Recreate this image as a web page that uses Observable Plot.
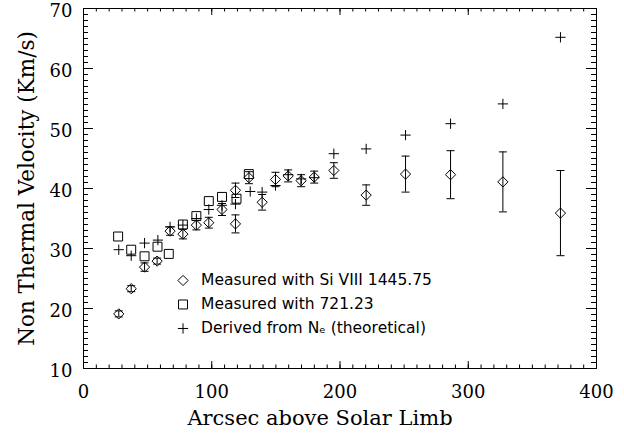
<!DOCTYPE html>
<html><head><meta charset="utf-8">
<script src="https://cdn.jsdelivr.net/npm/d3@7"></script>
<script src="https://cdn.jsdelivr.net/npm/@observablehq/plot@0.6"></script>
<style>
html,body{margin:0;padding:0;background:#fff;}
#chart{width:624px;height:434px;}
</style></head><body><div id="chart"></div>
<script>
// ---- data ----
// Measured with Si VIII 1445.75 (diamonds, with error bars)
const siX   = [27.5, 37.2, 47.6, 57.4, 67.5, 77.5, 88, 97.7, 108, 118.5, 118.5, 129, 139.3, 149.7, 159.6, 169.7, 179.9, 195.2, 220.4, 251.1, 286.2, 327, 371.9];
const siY   = [19.1, 23.3, 26.9, 27.9, 32.9, 32.4, 33.9, 34.3, 36.5, 39.7, 34.1, 41.8, 37.7, 41.5, 42.1, 41.3, 41.9, 43.0, 38.9, 42.4, 42.3, 41.1, 35.9];
const siErr = [0.5, 0.5, 0.7, 0.5, 0.7, 0.8, 0.8, 0.9, 1.0, 1.2, 1.5, 1.0, 1.3, 1.2, 1.0, 1.0, 1.0, 1.3, 1.7, 3.0, 4.0, 5.0, 7.1];
// Measured with 721.23 (squares)
const lnX = [27, 37.2, 47.6, 57.7, 66.5, 77.5, 88, 97.7, 108, 119.3, 128.9];
const lnY = [32.0, 29.8, 28.7, 30.3, 29.1, 34.0, 35.4, 37.9, 38.6, 38.3, 42.4];
// Derived from Ne (theoretical) (plus)
const neX = [27.5, 37.2, 47.6, 58, 67.5, 77.5, 88, 97.7, 108, 118.5, 130, 139.3, 149.7, 159.6, 169.7, 179.9, 195.2, 220.4, 251.1, 286.2, 327, 371.9];
const neY = [29.8, 28.8, 30.9, 31.4, 33.6, 33.9, 35.0, 36.5, 37.2, 37.4, 39.5, 39.4, 40.5, 42.3, 41.6, 41.8, 45.8, 46.6, 48.9, 50.8, 54.1, 65.2];

// axes
const xDomain = [0, 400];
const yDomain = [10, 70];
const xMajor = [0, 100, 200, 300, 400];
const yMajor = [10, 20, 30, 40, 50, 60, 70];
const xMinorStep = 10;
const yMinorStep = 1;
const xTitle = "Arcsec above Solar Limb";
const yTitle = "Non Thermal Velocity (Km/s)";

// legend
const legendLabels = ["Measured with Si VIII 1445.75", "Measured with 721.23", "Derived from N\u2091 (theoretical)"];
const legendSymbols = ["diamond2", "square2", "plus"];

// ---- layout ----
const W = 624, H = 434, mL = 83, mR = 28, mT = 8, mB = 66;
const plotW = W - mL - mR, plotH = H - mT - mB;
const symR = {diamond2: 4.6, square2: 5.7, plus: 3.4};
const legendPos = {x: 77.6, y0: 24.67, step: 4.0, textDx: 18};
const legendWidths = [322, 206, 314];

const xMinor = d3.range(xDomain[0], xDomain[1] + 0.001, xMinorStep);
const yMinor = d3.range(yDomain[0], yDomain[1] + 0.001, yMinorStep);

const siData = siX.map((x, i) => ({x, y: siY[i], e: siErr[i]}));
const lnData = lnX.map((x, i) => ({x, y: lnY[i]}));
const neData = neX.map((x, i) => ({x, y: neY[i]}));
const legendRows = legendLabels.map((label, i) => ({label, symbol: legendSymbols[i], x: legendPos.x, y: legendPos.y0 - i * legendPos.step}));

const cap = {draw(ctx, size) { const r = Math.sqrt(size / Math.PI); ctx.moveTo(-r, 0); ctx.lineTo(r, 0); }};
const ink = {stroke: "black", strokeWidth: 1};

const chart = Plot.plot({
  width: W, height: H,
  marginLeft: mL, marginRight: mR, marginTop: mT, marginBottom: mB,
  x: {domain: xDomain, axis: null},
  y: {domain: yDomain, axis: null},
  style: {fontFamily: "DejaVu Serif", fontSize: "18px", color: "black", background: "white", overflow: "visible"},
  marks: [
    Plot.frame(ink),
    // inward ticks on all four sides
    Plot.tickX(xMinor, {x: d => d, insetTop: plotH - 3.5, ...ink}),
    Plot.tickX(xMinor, {x: d => d, insetBottom: plotH - 3.5, ...ink}),
    Plot.tickX(xMajor, {x: d => d, insetTop: plotH - 7, ...ink}),
    Plot.tickX(xMajor, {x: d => d, insetBottom: plotH - 7, ...ink}),
    Plot.tickY(yMinor, {y: d => d, insetRight: plotW - 5, ...ink}),
    Plot.tickY(yMinor, {y: d => d, insetLeft: plotW - 5, ...ink}),
    Plot.tickY(yMajor, {y: d => d, insetRight: plotW - 10, ...ink}),
    Plot.tickY(yMajor, {y: d => d, insetLeft: plotW - 10, ...ink}),
    // tick labels
    Plot.text(xMajor, {x: d => d, text: d => String(d), frameAnchor: "bottom", lineAnchor: "middle", dy: 24, fill: "black"}),
    Plot.text(yMajor, {y: d => d, text: d => String(d), frameAnchor: "left", lineAnchor: "middle", dx: -11, dy: 3, textAnchor: "end", fill: "black"}),
    // axis titles
    Plot.text([xTitle], {text: d => d, frameAnchor: "bottom", lineAnchor: "middle", textAnchor: "middle", dy: 50, dx: -20, fontSize: 21, fill: "black"}),
    Plot.text([yTitle], {text: d => d, frameAnchor: "left", lineAnchor: "middle", textAnchor: "middle", dx: -56, rotate: -90, fontSize: 21.5, fill: "black"}),
    // error bars
    Plot.ruleX(siData, {x: "x", y1: d => d.y - d.e, y2: d => d.y + d.e, ...ink}),
    Plot.dot(siData, {x: "x", y: d => d.y + d.e, symbol: cap, r: 4, fill: "none", ...ink}),
    Plot.dot(siData, {x: "x", y: d => d.y - d.e, symbol: cap, r: 4, fill: "none", ...ink}),
    // series
    Plot.dot(siData, {x: "x", y: "y", symbol: "diamond2", r: symR.diamond2, fill: "none", ...ink}),
    Plot.dot(lnData, {x: "x", y: "y", symbol: "square2", r: symR.square2, fill: "none", ...ink}),
    Plot.dot(neData, {x: "x", y: "y", symbol: "plus", r: symR.plus, fill: "none", ...ink}),
    // legend
    Plot.dot(legendRows.slice(0, 1), {x: "x", y: "y", symbol: "diamond2", r: symR.diamond2, fill: "none", ...ink}),
    Plot.dot(legendRows.slice(1, 2), {x: "x", y: "y", symbol: "square2", r: symR.square2, fill: "none", ...ink}),
    Plot.dot(legendRows.slice(2, 3), {x: "x", y: "y", symbol: "plus", r: symR.plus, fill: "none", ...ink}),
    Plot.text(legendRows, {x: "x", y: "y", text: "label", dx: legendPos.textDx, textAnchor: "start", lineAnchor: "middle",
      fontFamily: "DejaVu Sans", fontSize: 15.5, fill: "black", ariaLabel: "legend-text"})
  ]
});

chart.querySelectorAll('g[aria-label="legend-text"] text').forEach((t, i) => {
  t.setAttribute("textLength", legendWidths[i]);
  t.setAttribute("lengthAdjust", "spacing");
});

document.getElementById("chart").appendChild(chart);
</script>
</body></html>
